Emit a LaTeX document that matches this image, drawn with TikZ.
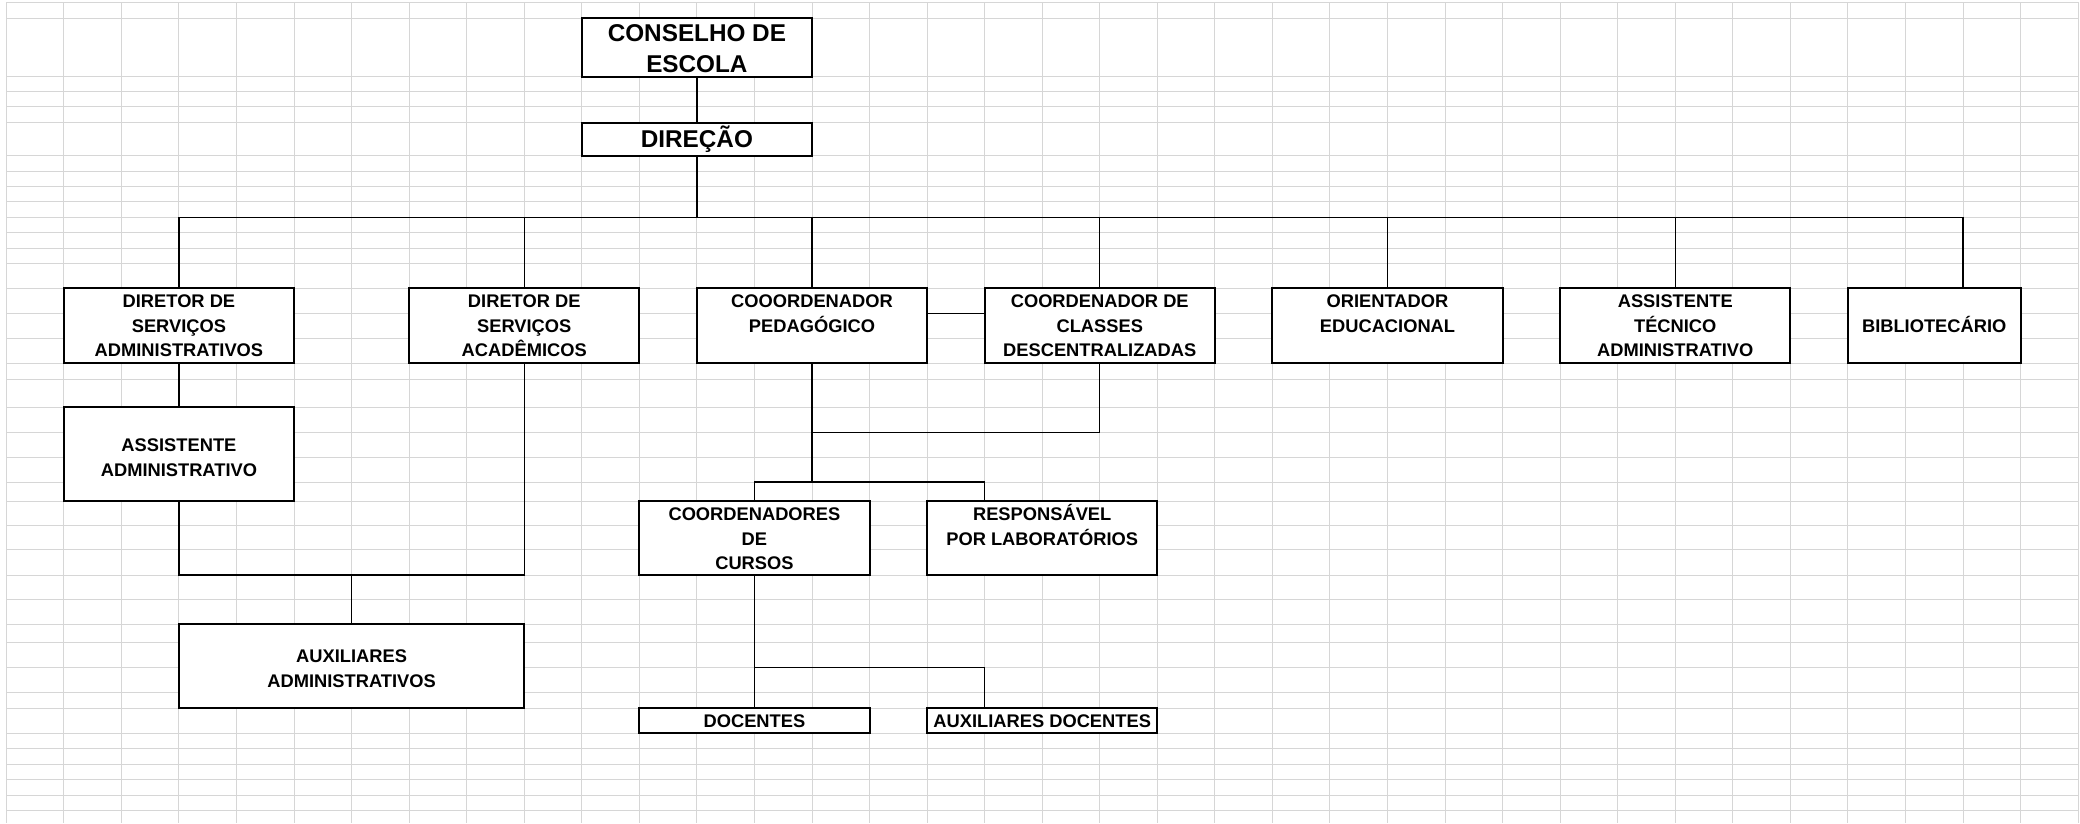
\documentclass[tikz,border=0pt]{standalone}
\usepackage{fontspec}
\setmainfont{Liberation Sans}
\definecolor{gridc}{HTML}{D6D6D6}
\begin{document}
\begin{tikzpicture}[x=1pt,y=-1pt,
  box/.style={draw=black, line width=2pt, fill=white, inner sep=0pt, minimum width=230.2pt},
  txt/.style={font=\fontsize{18.3}{24.6}\selectfont\bfseries, align=center, inner sep=0pt},
  bigtxt/.style={font=\fontsize{24.3}{30.7}\selectfont\bfseries, align=center, inner sep=0pt},
  conn/.style={draw=black, line width=1.4pt},
  gridline/.style={draw=gridc, line width=1pt}]
\useasboundingbox (0,0) rectangle (2080,823);
\fill[white] (0,0) rectangle (2080,823);
% spreadsheet grid
\foreach \r in {2.3,18.3,76.7,91.7,106.7,122.7,155.7,171,186,201.3,217.3,232.7,248.3,263.3,288.3,313.3,338.3,363.3,379,407.3,432.7,457.3,482,501,525.3,549.3,575,599.7,624.3,642.3,667.7,692.7,708,733,748.7,764.3,779.7,795.3,810.3}
  \draw[gridline] (6.3,\r) -- (2078.3,\r);
\foreach \k in {0,...,36}
  \draw[gridline] ({6.3+57.55*\k},2.3) -- ({6.3+57.55*\k},823);

% boxes
\node[box, minimum height=58.4pt] (cons) at (696.9,47.5) {};
\node[box, minimum height=33pt] (dir) at (696.9,139.2) {};
\node[box, minimum height=75pt] (b1) at (178.95,325.8) {};
\node[box, minimum height=75pt] (b2) at (524.25,325.8) {};
\node[box, minimum height=75pt] (b3) at (812,325.8) {};
\node[box, minimum height=75pt] (b4) at (1099.75,325.8) {};
\node[box, minimum height=75pt] (b5) at (1387.5,325.8) {};
\node[box, minimum height=75pt] (b6) at (1675.25,325.8) {};
\node[box, minimum height=75pt, minimum width=172.65pt] (b7) at (1934.2,325.8) {};
\node[box, minimum height=93.7pt] (asst) at (178.95,454.15) {};
\node[box, minimum height=83.7pt, minimum width=345.3pt] (auxadm) at (351.6,666.15) {};
\node[box, minimum height=74pt] (cursos) at (754.45,538) {};
\node[box, minimum height=74pt] (resp) at (1042.2,538) {};
\node[box, minimum height=25pt] (doc) at (754.45,720.5) {};
\node[box, minimum height=25pt] (auxdoc) at (1042.2,720.5) {};

% texts
\node[bigtxt] (cons-t) at (696.9,50.9) {\strut CONSELHO DE\\\strut ESCOLA};
\node[bigtxt] (dir-t) at (696.9,141.3) {\strut DIREÇÃO};
\node[txt] (b1-t) at (178.95,327.4) {\strut DIRETOR DE\\\strut SERVIÇOS\\\strut ADMINISTRATIVOS};
\node[txt] (b2-t) at (524.25,327.4) {\strut DIRETOR DE\\\strut SERVIÇOS\\\strut ACADÊMICOS};
\node[txt] (b3-t) at (812,315) {\strut COOORDENADOR\\\strut PEDAGÓGICO};
\node[txt] (b4-t) at (1099.75,327.4) {\strut COORDENADOR DE\\\strut CLASSES\\\strut DESCENTRALIZADAS};
\node[txt] (b5-t) at (1387.5,315) {\strut ORIENTADOR\\\strut EDUCACIONAL};
\node[txt] (b6-t) at (1675.25,327.4) {\strut ASSISTENTE\\\strut TÉCNICO\\\strut ADMINISTRATIVO};
\node[txt] (b7-t) at (1934.2,327.4) {\strut BIBLIOTECÁRIO};
\node[txt] (asst-t) at (178.95,458.9) {\strut ASSISTENTE\\\strut ADMINISTRATIVO};
\node[txt] (auxadm-t) at (351.6,669.8) {\strut AUXILIARES\\\strut ADMINISTRATIVOS};
\node[txt] (cursos-t) at (754.45,540.4) {\strut COORDENADORES\\\strut DE\\\strut CURSOS};
\node[txt] (resp-t) at (1042.2,528.1) {\strut RESPONSÁVEL\\\strut POR LABORATÓRIOS};
\node[txt] (doc-t) at (754.45,722.6) {\strut DOCENTES};
\node[txt] (auxdoc-t) at (1042.2,722.6) {\strut AUXILIARES DOCENTES};

% connectors
\coordinate (busL) at (178.95,217.3);
\coordinate (busR) at (1963,217.3);
\coordinate (busM) at (696.9,217.3);
\coordinate (lk) at (0,313.3);
\coordinate (jA) at (351.6,575);
\coordinate (jP) at (812,432.7);
\coordinate (sP) at (812,482);
\coordinate (sPR) at (984.65,482);
\coordinate (sD) at (984.65,667.7);

\draw[conn] (cons.south) -- (dir.north);
\draw[conn] (dir.south) -- (busM);
\draw[conn] (busL) -- (busR);
\foreach \b in {b1,b2,b3,b4,b5,b6}
  \draw[conn] (\b.north |- busL) -- (\b.north);
\draw[conn] (busR) -- (busR |- b7.north);
\draw[conn] (b3.east |- lk) -- (b4.west |- lk);
\draw[conn] (b1.south) -- (asst.north);
\draw[conn] (asst.south) -- (asst.south |- jA) -- (b2.south |- jA) -- (b2.south);
\draw[conn] (jA) -- (auxadm.north);
\draw[conn] (b3.south) -- (jP) -- (b4.south |- jP) -- (b4.south);
\draw[conn] (jP) -- (sP);
\draw[conn] (cursos.north) -- (cursos.north |- sP) -- (sPR) -- (sPR |- resp.north);
\draw[conn] (cursos.south) -- (doc.north);
\draw[conn] (cursos.south |- sD) -- (sD) -- (sD |- auxdoc.north);
\end{tikzpicture}
\end{document}
